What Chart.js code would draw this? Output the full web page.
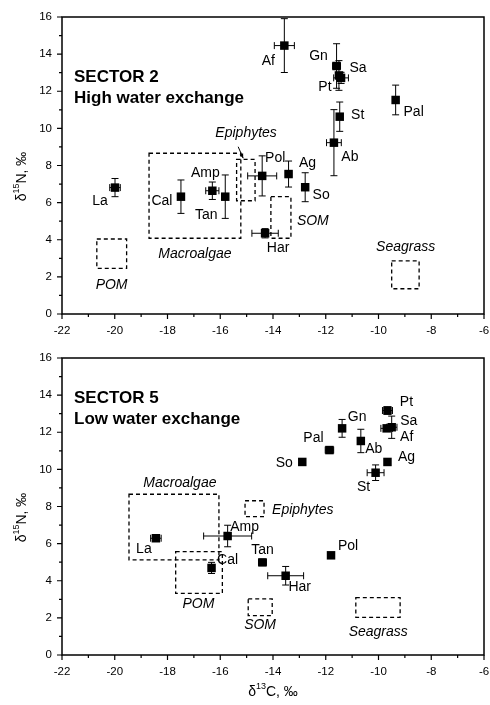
<!DOCTYPE html>
<html>
<head>
<meta charset="utf-8">
<script src="https://cdn.jsdelivr.net/npm/chart.js@4.4.0/dist/chart.umd.min.js"></script>
<style>
  body { margin: 0; background: #fff; }
  canvas { display: block; }
</style>
</head>
<body>
<canvas id="sector2" width="490" height="342"></canvas>
<canvas id="sector5" width="490" height="363"></canvas>
<script>
// Оси
const xTicks = [-22, -20, -18, -16, -14, -12, -10, -8, -6];
const yTicks = [0, 2, 4, 6, 8, 10, 12, 14, 16];

// SECTOR 2 – консументы (δ13C, δ15N, погрешности)
const s2Names = ['Af', 'Gn', 'Sa', 'Pt', 'St', 'Ab', 'Pal', 'Pol', 'Ag', 'So', 'Har', 'La', 'Cal', 'Amp', 'Tan'];
const s2C = [-13.57, -11.59, -11.42, -11.50, -11.47, -11.69, -9.35, -14.41, -13.41, -12.78, -14.30, -19.99, -17.49, -16.30, -15.81];
const s2N = [14.46, 13.36, 12.72, 12.85, 10.63, 9.23, 11.53, 7.44, 7.54, 6.83, 4.35, 6.81, 6.32, 6.64, 6.32];
const s2Cerr = [0.38, 0.15, 0.28, 0, 0, 0.28, 0, 0.55, 0.12, 0, 0.50, 0.20, 0, 0.25, 0];
const s2Nerr = [1.45, 1.20, 0.30, 0.80, 0.79, 1.78, 0.80, 1.08, 0.70, 0.78, 0.25, 0.49, 0.90, 0.47, 1.17];

// SECTOR 2 – источники (прямоугольники)
const s2Sources = ['Macroalgae', 'Epiphytes', 'SOM', 'POM', 'Seagrass'];
const s2SrcC = [[-18.70, -15.22], [-15.38, -14.68], [-14.08, -13.32], [-20.68, -19.55], [-9.50, -8.46]];
const s2SrcN = [[4.08, 8.66], [6.10, 8.33], [4.08, 6.32], [2.46, 4.04], [1.36, 2.86]];

// SECTOR 5 – консументы
const s5Names = ['Pt', 'Sa', 'Af', 'Gn', 'Ab', 'Pal', 'So', 'Ag', 'St', 'Pol', 'Tan', 'Har', 'Amp', 'La', 'Cal'];
const s5C = [-9.66, -9.50, -9.69, -11.38, -10.67, -11.86, -12.89, -9.66, -10.11, -11.80, -14.40, -13.52, -15.72, -18.44, -16.33];
const s5N = [13.17, 12.27, 12.21, 12.21, 11.53, 11.04, 10.40, 10.40, 9.82, 5.37, 4.99, 4.27, 6.41, 6.29, 4.69];
const s5Cerr = [0.19, 0.20, 0.22, 0, 0, 0.16, 0.10, 0, 0.32, 0, 0.15, 0.68, 0.91, 0.20, 0.10];
const s5Nerr = [0.20, 0.60, 0.10, 0.48, 0.63, 0, 0.15, 0, 0.42, 0, 0, 0.50, 0.58, 0, 0.30];

// SECTOR 5 – источники
const s5Sources = ['Macroalgae', 'Epiphytes', 'POM', 'SOM', 'Seagrass'];
const s5SrcC = [[-19.46, -16.05], [-15.06, -14.34], [-17.69, -15.92], [-14.94, -14.03], [-10.86, -9.18]];
const s5SrcN = [[5.12, 8.66], [7.45, 8.31], [3.32, 5.57], [2.12, 3.02], [2.03, 3.09]];

// Расположение подписей (смещения в пикселях от точки)
const s2LabelOff = [[-16, 16], [-18, -10], [17, -10], [-14, 12], [18, -2], [16, 14], [18, 12], [13, -18], [19, -11], [16, 8], [13, 15], [-15, 14], [-19, 4], [-7, -18], [-19, 18]];
const s5LabelOff = [[19, -8], [17, -6], [20, 9], [15, -11], [13, 8], [-16, -12], [-18, 1], [19, -5], [-12, 14], [17, -9], [0, -12], [14, 11], [17, -9], [-12, 11], [16, -8]];
// Подписи источников (в координатах данных)
const s2SrcLabelPos = [[-16.96, 3.23], [-15.02, 9.75], [-12.49, 5.03], [-20.12, 1.56], [-8.97, 3.59]];
const s5SrcLabelPos = [[-17.53, 9.25], [-12.87, 7.81], [-16.83, 2.75], [-14.49, 1.62], [-10.01, 1.26]];

const FONT = '"Liberation Sans", Arial, Helvetica, sans-serif';

function drawSupText(ctx, parts, x, y, align) {
    // parts: [text, isSup]
    const mainFont = '14px ' + FONT;
    const supFont = '9px ' + FONT;
    let total = 0;
    parts.forEach(p => {
        ctx.font = p[1] ? supFont : mainFont;
        total += ctx.measureText(p[0]).width;
    });
    let cx = align === 'center' ? x - total / 2 : x;
    ctx.textAlign = 'left';
    ctx.textBaseline = 'middle';
    parts.forEach(p => {
        ctx.font = p[1] ? supFont : mainFont;
        ctx.fillText(p[0], cx, p[1] ? y - 5 : y);
        cx += ctx.measureText(p[0]).width;
    });
}

function overlayPlugin(cfg) {
    return {
        id: 'overlay',
        afterDatasetsDraw(chart) {
            const ctx = chart.ctx;
            const xs = chart.scales.x, ys = chart.scales.y;
            const area = chart.chartArea;
            const px = v => xs.getPixelForValue(v);
            const py = v => ys.getPixelForValue(v);
            ctx.save();
            ctx.strokeStyle = '#000';
            ctx.fillStyle = '#000';

            // Прямоугольники источников
            ctx.lineWidth = 1.3;
            ctx.setLineDash([4, 3]);
            cfg.srcC.forEach((c, i) => {
                const n = cfg.srcN[i];
                ctx.strokeRect(px(c[0]), py(n[1]), px(c[1]) - px(c[0]), py(n[0]) - py(n[1]));
            });
            ctx.setLineDash([]);

            // Погрешности
            ctx.lineWidth = 1;
            cfg.c.forEach((c, i) => {
                const x = px(c), y = py(cfg.n[i]);
                const ce = cfg.cErr[i], ne = cfg.nErr[i];
                ctx.beginPath();
                if (ne > 0) {
                    const y1 = py(Math.min(cfg.n[i] + ne, 16)), y2 = py(cfg.n[i] - ne);
                    ctx.moveTo(x, y1); ctx.lineTo(x, y2);
                    ctx.moveTo(x - 3.5, y1); ctx.lineTo(x + 3.5, y1);
                    ctx.moveTo(x - 3.5, y2); ctx.lineTo(x + 3.5, y2);
                }
                if (ce > 0) {
                    const x1 = px(c - ce), x2 = px(c + ce);
                    ctx.moveTo(x1, y); ctx.lineTo(x2, y);
                    ctx.moveTo(x1, y - 3.5); ctx.lineTo(x1, y + 3.5);
                    ctx.moveTo(x2, y - 3.5); ctx.lineTo(x2, y + 3.5);
                }
                ctx.stroke();
            });

            // Подписи точек
            ctx.font = '14px ' + FONT;
            ctx.textAlign = 'center';
            ctx.textBaseline = 'middle';
            cfg.names.forEach((name, i) => {
                const off = cfg.labelOff[i];
                ctx.fillText(name, px(cfg.c[i]) + off[0], py(cfg.n[i]) + off[1]);
            });

            // Подписи источников
            ctx.font = 'italic 14px ' + FONT;
            cfg.sources.forEach((name, i) => {
                const p = cfg.srcLabelPos[i];
                ctx.fillText(name, px(p[0]), py(p[1]));
            });

            // Стрелка к Epiphytes
            if (cfg.arrow) {
                const [a, b] = cfg.arrow;
                const x1 = px(a[0]), y1 = py(a[1]), x2 = px(b[0]), y2 = py(b[1]);
                ctx.beginPath();
                ctx.moveTo(x1, y1); ctx.lineTo(x2, y2);
                ctx.stroke();
                const ang = Math.atan2(y2 - y1, x2 - x1);
                ctx.beginPath();
                ctx.moveTo(x2, y2);
                ctx.lineTo(x2 - 5 * Math.cos(ang - 0.4), y2 - 5 * Math.sin(ang - 0.4));
                ctx.lineTo(x2 - 5 * Math.cos(ang + 0.4), y2 - 5 * Math.sin(ang + 0.4));
                ctx.closePath();
                ctx.fill();
            }

            // Заголовок сектора
            ctx.font = 'bold 17px ' + FONT;
            ctx.textAlign = 'left';
            ctx.fillText(cfg.title[0], area.left + 12, area.top + cfg.titleY[0]);
            ctx.fillText(cfg.title[1], area.left + 12, area.top + cfg.titleY[1]);

            // Рамка
            ctx.lineWidth = 1.5;
            ctx.strokeRect(area.left, area.top, area.right - area.left, area.bottom - area.top);

            // Деления
            ctx.lineWidth = 1.2;
            ctx.beginPath();
            for (let v = -22; v <= -6; v += 1) {
                const x = px(v);
                const len = v % 2 === 0 ? 5 : 3;
                ctx.moveTo(x, area.bottom); ctx.lineTo(x, area.bottom + len);
            }
            for (let v = 0; v <= 16; v += 1) {
                const y = py(v);
                const len = v % 2 === 0 ? 5 : 3;
                ctx.moveTo(area.left, y); ctx.lineTo(area.left - len, y);
            }
            ctx.stroke();

            // Подпись оси Y
            ctx.save();
            ctx.translate(22, (area.top + area.bottom) / 2 + 11);
            ctx.rotate(-Math.PI / 2);
            drawSupText(ctx, [['δ', false], ['15', true], ['N, ‰', false]], 0, 0, 'center');
            ctx.restore();

            // Подпись оси X
            if (cfg.xTitle) {
                drawSupText(ctx, [['δ', false], ['13', true], ['C, ‰', false]], (area.left + area.right) / 2, area.bottom + 37, 'center');
            }
            ctx.restore();
        }
    };
}

function makePanel(id, cfg) {
    const points = cfg.c.map((c, i) => ({ x: c, y: cfg.n[i] }));
    const tickFont = { family: FONT, size: 11.5 };
    return new Chart(document.getElementById(id), {
        type: 'scatter',
        data: {
            datasets: [{
                data: points,
                pointStyle: 'rect',
                radius: 6,
                hoverRadius: 6,
                backgroundColor: '#000',
                borderWidth: 0
            }]
        },
        options: {
            responsive: false,
            animation: false,
            layout: { padding: { top: cfg.padTop, right: 6, left: 0, bottom: 0 } },
            plugins: { legend: { display: false }, tooltip: { enabled: false } },
            scales: {
                x: {
                    type: 'linear', min: -22, max: -6,
                    afterBuildTicks: s => { s.ticks = xTicks.map(v => ({ value: v })); },
                    grid: { display: false, drawTicks: false },
                    border: { display: false },
                    ticks: { padding: 10, color: '#000', font: tickFont, maxRotation: 0 },
                    afterFit: s => { s.height = cfg.xAxisH; s.paddingLeft = 0; s.paddingRight = 0; }
                },
                y: {
                    type: 'linear', min: 0, max: 16,
                    afterBuildTicks: s => { s.ticks = yTicks.map(v => ({ value: v })); },
                    grid: { display: false, drawTicks: false },
                    border: { display: false },
                    ticks: { padding: 10, color: '#000', font: tickFont },
                    afterFit: s => { s.width = 62; s.paddingTop = 0; s.paddingBottom = 0; }
                }
            }
        },
        plugins: [overlayPlugin(cfg)]
    });
}

makePanel('sector2', {
    names: s2Names, c: s2C, n: s2N, cErr: s2Cerr, nErr: s2Nerr,
    sources: s2Sources, srcC: s2SrcC, srcN: s2SrcN,
    labelOff: s2LabelOff, srcLabelPos: s2SrcLabelPos,
    arrow: [[-15.32, 9.01], [-15.13, 8.39]],
    title: ['SECTOR 2', 'High water exchange'], titleY: [60, 81],
    padTop: 17, xAxisH: 28, xTitle: false
});

makePanel('sector5', {
    names: s5Names, c: s5C, n: s5N, cErr: s5Cerr, nErr: s5Nerr,
    sources: s5Sources, srcC: s5SrcC, srcN: s5SrcN,
    labelOff: s5LabelOff, srcLabelPos: s5SrcLabelPos,
    arrow: null,
    title: ['SECTOR 5', 'Low water exchange'], titleY: [40, 61],
    padTop: 16, xAxisH: 50, xTitle: true
});
</script>
</body>
</html>
